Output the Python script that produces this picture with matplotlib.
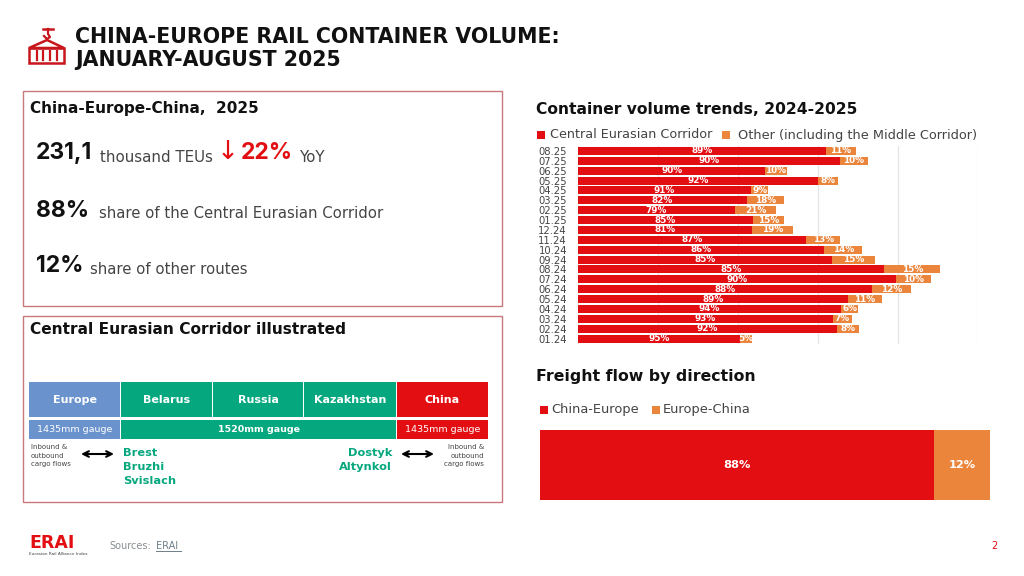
import matplotlib
matplotlib.use('Agg')
import matplotlib.pyplot as plt
from matplotlib.patches import Rectangle, Polygon

# monthly container volume, thousand TEU
months = ['08.25', '07.25', '06.25', '05.25', '04.25', '03.25', '02.25', '01.25', '12.24', '11.24',
          '10.24', '09.24', '08.24', '07.24', '06.24', '05.24', '04.24', '03.24', '02.24', '01.24']
central = [31.0, 32.7, 23.4, 30.0, 21.6, 21.1, 19.6, 21.9, 21.7, 28.5,
           30.8, 31.7, 38.3, 39.7, 36.8, 33.7, 32.9, 31.9, 32.4, 20.3]
other = [3.75, 3.6, 2.7, 2.5, 2.2, 4.7, 5.2, 3.8, 5.2, 4.3,
         4.75, 5.45, 7.0, 4.4, 4.8, 4.25, 2.1, 2.3, 2.75, 1.4]
central_pct = [89, 90, 90, 92, 91, 82, 79, 85, 81, 87, 86, 85, 85, 90, 88, 89, 94, 93, 92, 95]
other_pct = [11, 10, 10, 8, 9, 18, 21, 15, 19, 13, 14, 15, 15, 10, 12, 11, 6, 7, 8, 5]

flow_names = ['China-Europe', 'Europe-China']
flow_width = [87.6, 12.4]
flow_labels = ['88%', '12%']

RED = '#E30E12'
ORANGE = '#EB853C'
GREEN = '#05A77F'
BLUE = '#6A93CE'
BORDER = '#C8797C'
ICON = '#C8161C'
BLACK = '#111111'
GREY = '#444444'
W, H = 1024, 576

plt.rcParams['font.family'] = ['DejaVu Sans']

fig = plt.figure(figsize=(W / 100, H / 100), dpi=100)


def px_axes(x0, y0, x1, y1, **kw):
    return fig.add_axes([x0 / W, 1 - y1 / H, (x1 - x0) / W, (y1 - y0) / H], **kw)


# page overlay in pixel coordinates, for the text and the panels
page = fig.add_axes([0, 0, 1, 1])
page.set_xlim(0, W)
page.set_ylim(H, 0)
page.axis('off')


def txt(x, y, s, size, color=BLACK, weight='normal', ha='left', va='center', **kw):
    page.text(x, y, s, fontsize=size, color=color, fontweight=weight, ha=ha, va=va, **kw)


def box(x0, y0, x1, y1, face='none', edge='none', lw=0):
    page.add_patch(Rectangle((x0, y0), x1 - x0, y1 - y0, facecolor=face, edgecolor=edge, linewidth=lw))


# title and icon
txt(75, 37, 'CHINA-EUROPE RAIL CONTAINER VOLUME:', 14.8, weight='bold')
txt(75, 60, 'JANUARY-AUGUST 2025', 14.8, weight='bold')
page.add_patch(Polygon([[29, 48], [64, 48], [47, 40]], closed=True, fill=False, edgecolor=ICON, lw=1.8))
box(29, 48, 64, 63, edge=ICON, lw=1.8)
for xb in [37, 43, 50, 57]:
    page.plot([xb, xb], [51, 60], color=ICON, lw=1.6)
page.plot([43, 53], [29, 29], color=ICON, lw=1.8)
page.plot([48, 48, 50, 47, 44], [29, 34, 37, 39, 36], color=ICON, lw=1.6)

# top left panel
box(23, 91, 502, 306, edge=BORDER, lw=1)
txt(30, 109, 'China-Europe-China,  2025', 11, weight='bold')
txt(36, 153, '231,1', 16.5, weight='bold', family=['Inter'])
txt(100, 157, 'thousand TEUs', 10.8, color=GREY)
txt(228, 152, '↓', 19, color=RED, ha='center')
txt(241, 153, '22%', 16.5, color=RED, weight='bold', family=['Inter'])
txt(300, 157, 'YoY', 10.8, color=GREY)
txt(36, 211, '88%', 16.5, weight='bold', family=['Inter'])
txt(99, 214, 'share of the Central Eurasian Corridor', 10.7, color=GREY)
txt(36, 266, '12%', 16.5, weight='bold', family=['Inter'])
txt(90, 269, 'share of other routes', 10.7, color=GREY)

# bottom left panel
box(23, 316, 502, 502, edge=BORDER, lw=1)
txt(30, 330, 'Central Eurasian Corridor illustrated', 11.1, weight='bold')
cells = [('Europe', 29, 120, BLUE), ('Belarus', 121, 212, GREEN), ('Russia', 213, 303, GREEN),
         ('Kazakhstan', 304, 396, GREEN), ('China', 397, 488, RED)]
for name, x0, x1, col in cells:
    box(x0, 382, x1, 417, face=col)
    txt((x0 + x1) / 2, 400, name, 8, color='white', weight='bold', ha='center')
for label, x0, x1, col, wt in [('1435mm gauge', 29, 120, BLUE, 'normal'), ('1520mm gauge', 121, 396, GREEN, 'bold'),
                               ('1435mm gauge', 397, 488, RED, 'normal')]:
    box(x0, 420, x1, 439, face=col)
    txt((x0 + x1) / 2, 429, label, 6.8, color='white', weight=wt, ha='center')
for i, s in enumerate(['Inbound &', 'outbound', 'cargo flows']):
    txt(31, 447 + i * 8.7, s, 5, color=GREY)
    txt(484, 447 + i * 8.7, s, 5, color=GREY, ha='right')
for x0, x1 in [(81, 114), (401, 434)]:
    page.annotate('', xy=(x0, 454), xytext=(x1, 454),
                  arrowprops=dict(arrowstyle='<->', color='black', lw=1.5, shrinkA=0, shrinkB=0))
for i, s in enumerate(['Brest', 'Bruzhi', 'Svislach']):
    txt(123, 453 + i * 14, s, 8.2, color=GREEN, weight='bold')
for i, s in enumerate(['Dostyk', 'Altynkol']):
    txt(392, 453 + i * 14, s, 8.2, color=GREEN, weight='bold', ha='right')

# trends chart
txt(536, 109, 'Container volume trends, 2024-2025', 11.2, weight='bold')
box(537, 131, 545, 139, face=RED)
txt(550, 135, 'Central Eurasian Corridor', 9.2, color=GREY)
box(722, 131, 730, 139, face=ORANGE)
txt(738, 135, 'Other (including the Middle Corridor)', 9.3, color=GREY)

ax = px_axes(578, 146, 978, 344)
ypos = list(range(len(months)))
ax.barh(ypos, central, height=0.82, color=RED, zorder=2)
ax.barh(ypos, other, left=central, height=0.82, color=ORANGE, zorder=2)
for y, c, o, cp, op in zip(ypos, central, other, central_pct, other_pct):
    ax.text(c / 2, y, f'{cp}%', color='white', fontsize=6.4, fontweight='bold', ha='center', va='center', zorder=3)
    ax.text(c + o / 2, y, f'{op}%', color='white', fontsize=6.4, fontweight='bold', ha='center', va='center', zorder=3)
ax.set_xlim(0, 50)
ax.set_ylim(len(months) - 0.45, -0.5)
ax.set_yticks(ypos)
ax.set_yticklabels(months, fontsize=7.2, color=GREY)
ax.set_xticks(range(0, 51, 10))
ax.tick_params(axis='x', length=0, labelbottom=False)
ax.tick_params(axis='y', length=0, pad=8)
ax.grid(True, axis='x', color='#E3E6E8', linewidth=0.9, zorder=0)
for side in ax.spines:
    ax.spines[side].set_visible(False)
ax.patch.set_alpha(0)

# freight flow chart
txt(536, 376, 'Freight flow by direction', 11.3, weight='bold')
box(540, 406, 548, 414, face=RED)
txt(551, 409, flow_names[0], 9.4, color=GREY)
box(652, 406, 660, 414, face=ORANGE)
txt(663, 409, flow_names[1], 9.4, color=GREY)

ax2 = px_axes(540, 430, 990, 500)
ax2.barh([0], [flow_width[0]], height=1, color=RED)
ax2.barh([0], [flow_width[1]], left=[flow_width[0]], height=1, color=ORANGE)
ax2.text(flow_width[0] / 2, 0, flow_labels[0], color='white', fontsize=8.2, fontweight='bold', ha='center', va='center')
ax2.text(flow_width[0] + flow_width[1] / 2, 0, flow_labels[1], color='white', fontsize=8.2, fontweight='bold', ha='center', va='center')
ax2.set_xlim(0, 100)
ax2.set_ylim(-0.5, 0.5)
ax2.axis('off')

# footer
txt(29, 543, 'ERAI', 12.5, color=RED, weight='bold')
txt(29, 554, 'Eurasian Rail Alliance Index', 3.1, color=GREY)
txt(109, 546, 'Sources:', 7, color='#8A8F92')
txt(156, 546, 'ERAI', 7, color='#6F7F88')
page.plot([156, 181], [551, 551], color='#6F7F88', lw=0.7)
txt(998, 546, '2', 7, color=RED, ha='right')

fig.savefig('out.png', dpi=100)
